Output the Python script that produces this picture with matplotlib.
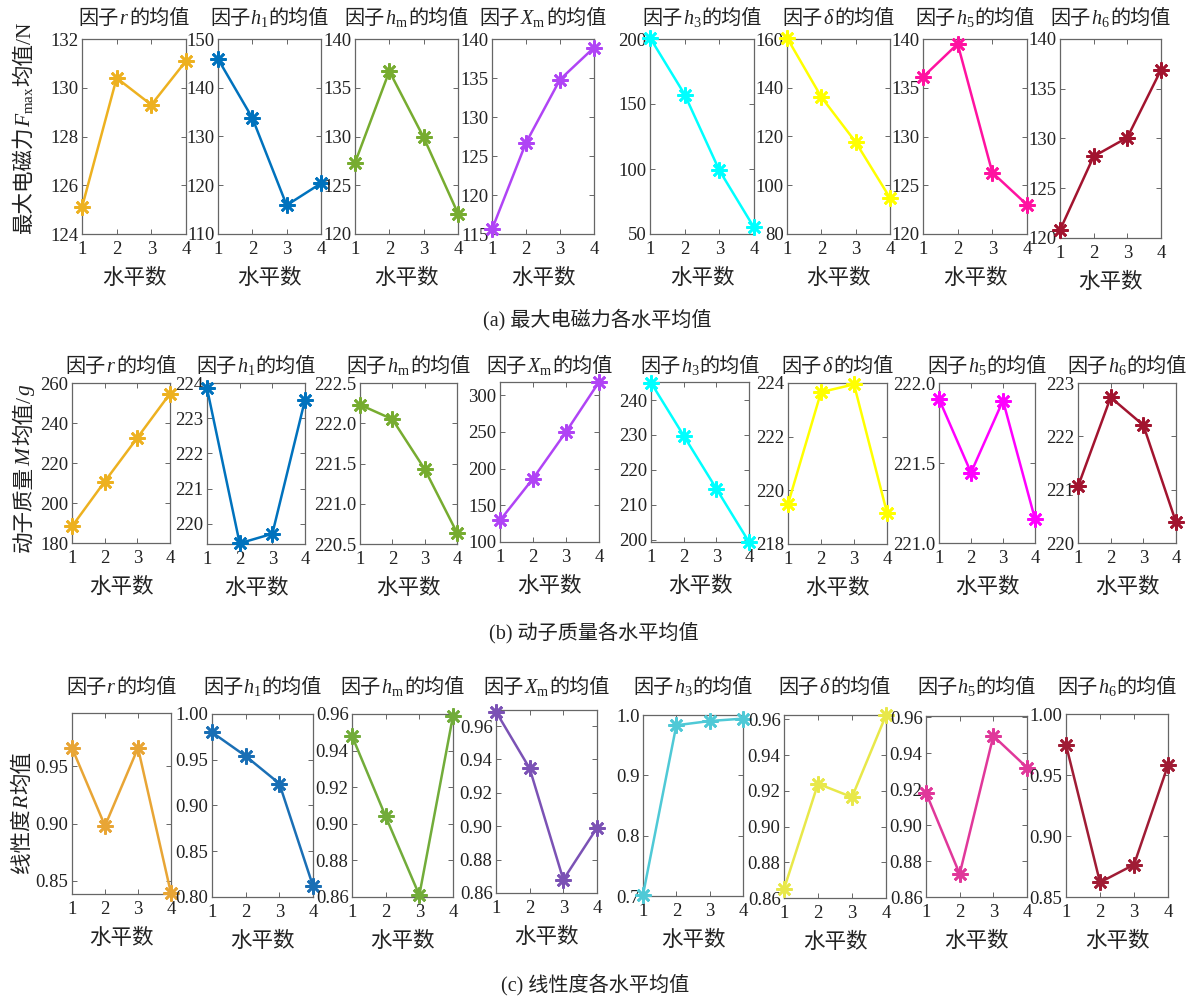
import matplotlib
matplotlib.use("Agg")
import matplotlib.pyplot as plt
from matplotlib.ticker import FormatStrFormatter

plt.rcParams['font.family'] = ['Liberation Serif', 'Noto Sans CJK SC']
plt.rcParams['mathtext.fontset'] = 'custom'
plt.rcParams['mathtext.rm'] = 'Liberation Serif'
plt.rcParams['mathtext.it'] = 'Liberation Serif:italic'
plt.rcParams['mathtext.bf'] = 'Liberation Serif:bold'
plt.rcParams['axes.unicode_minus'] = False

W, H = 1189, 997

# ---------------- data ----------------
levels = [1, 2, 3, 4]
factor_titles = [r'因子$r$的均值', r'因子$h_1$的均值', r'因子$h_{\mathrm{m}}$的均值',
                 r'因子$X_{\mathrm{m}}$的均值', r'因子$h_3$的均值', r'因子$\delta$的均值',
                 r'因子$h_5$的均值', r'因子$h_6$的均值']

# (a) maximum electromagnetic force mean per level
force_r = [125.1, 130.4, 129.3, 131.1]
force_h1 = [145.9, 133.8, 115.9, 120.4]
force_hm = [127.3, 136.7, 129.9, 122.1]
force_Xm = [115.6, 126.7, 134.8, 138.9]
force_h3 = [201.0, 157.3, 99.0, 55.0]
force_delta = [160.5, 136.2, 117.7, 94.8]
force_h5 = [136.1, 139.5, 126.3, 123.0]
force_h6 = [120.8, 128.2, 130.1, 136.9]

# (b) mover mass mean per level
mass_r = [188.3, 210.7, 232.6, 254.7]
mass_h1 = [223.85, 219.45, 219.72, 223.52]
mass_hm = [222.23, 222.05, 221.43, 220.64]
mass_Xm = [129.5, 186.4, 250.0, 318.0]
mass_h3 = [245.0, 229.8, 214.6, 199.3]
mass_delta = [219.49, 223.66, 223.95, 219.16]
mass_h5 = [221.90, 221.44, 221.89, 221.15]
mass_h6 = [221.06, 222.73, 222.21, 220.39]

# (c) linearity mean per level
lin_r = [0.966, 0.898, 0.966, 0.839]
lin_h1 = [0.980, 0.954, 0.924, 0.812]
lin_hm = [0.948, 0.904, 0.861, 0.959]
lin_Xm = [0.9686, 0.9346, 0.868, 0.899]
lin_h3 = [0.702, 0.983, 0.990, 0.994]
lin_delta = [0.865, 0.924, 0.9165, 0.9624]
lin_h5 = [0.918, 0.8728, 0.9496, 0.932]
lin_h6 = [0.9748, 0.862, 0.8765, 0.958]

row_series = [
    [force_r, force_h1, force_hm, force_Xm, force_h3, force_delta, force_h5, force_h6],
    [mass_r, mass_h1, mass_hm, mass_Xm, mass_h3, mass_delta, mass_h5, mass_h6],
    [lin_r, lin_h1, lin_hm, lin_Xm, lin_h3, lin_delta, lin_h5, lin_h6],
]

row_ylabels = [r'最大电磁力$F_{\mathrm{max}}$均值/N', r'动子质量$M$均值/$g$', r'线性度$R$均值']
row_captions = ['(a) 最大电磁力各水平均值', '(b) 动子质量各水平均值', '(c) 线性度各水平均值']

# axis limits & ticks
row_ylims = [
    [(124, 132), (110, 150), (120, 140), (115, 140), (50, 200), (80, 160), (120, 140), (120, 140)],
    [(180, 260), (219.43, 224), (220.5, 222.5), (100, 318), (199.3, 245.2), (218, 224), (221, 222), (220, 223)],
    [(0.8385, 0.9965), (0.80, 1.00), (0.86, 0.96), (0.86, 0.9696), (0.70, 1.00), (0.86, 0.9625), (0.86, 0.9607), (0.85, 1.00)],
]
row_yticks = [
    [[124, 126, 128, 130, 132], [110, 120, 130, 140, 150], [120, 125, 130, 135, 140],
     [115, 120, 125, 130, 135, 140], [50, 100, 150, 200], [80, 100, 120, 140, 160],
     [120, 125, 130, 135, 140], [120, 125, 130, 135, 140]],
    [[180, 200, 220, 240, 260], [220, 221, 222, 223, 224], [220.5, 221.0, 221.5, 222.0, 222.5],
     [100, 150, 200, 250, 300], [200, 210, 220, 230, 240], [218, 220, 222, 224],
     [221.0, 221.5, 222.0], [220, 221, 222, 223]],
    [[0.85, 0.90, 0.95], [0.80, 0.85, 0.90, 0.95, 1.00], [0.86, 0.88, 0.90, 0.92, 0.94, 0.96],
     [0.86, 0.88, 0.90, 0.92, 0.94, 0.96], [0.7, 0.8, 0.9, 1.0], [0.86, 0.88, 0.90, 0.92, 0.94, 0.96],
     [0.86, 0.88, 0.90, 0.92, 0.94, 0.96], [0.85, 0.90, 0.95, 1.00]],
]
row_fmts = [
    ['%d'] * 8,
    ['%d', '%d', '%.1f', '%d', '%d', '%d', '%.1f', '%d'],
    ['%.2f', '%.2f', '%.2f', '%.2f', '%.1f', '%.2f', '%.2f', '%.2f'],
]

row_colors = [
    ['#EDB120', '#0072BD', '#77AC30', '#B044F5', '#00FFFF', '#FFFF00', '#FF12A0', '#A2142F'],
    ['#EDB120', '#0072BD', '#77AC30', '#B044F5', '#00FFFF', '#FFFF00', '#FF00FF', '#A2142F'],
    ['#E8A535', '#1A6FB5', '#72AC3A', '#7B52B5', '#4FC9D6', '#E8E84A', '#E0389A', '#A01C35'],
]

# ---------------- layout (pixels: left, top, right, bottom) ----------------
row_boxes = [
    [(82, 39, 186, 234), (218, 39, 321, 234), (355, 39, 458, 234), (492, 39, 594, 234),
     (650, 39, 754, 234), (787, 39, 890, 234), (923, 39, 1027, 234), (1060, 39, 1161, 238)],
    [(72, 383, 170, 543), (207, 383, 305, 544), (360, 383, 457, 544), (500, 382, 599, 542),
     (651, 382, 749, 542), (788, 383, 887, 544), (939, 383, 1035, 543), (1078, 383, 1176, 543)],
    [(72, 713, 171, 894), (212, 714, 313, 897), (352, 714, 453, 897), (496, 710, 597, 893),
     (643, 715, 743, 896), (784, 715, 886, 898), (926, 716, 1027, 897), (1066, 714, 1168, 897)],
]
title_y = [17, 365, 686]
ylabel_pos = [(22, 128), (22, 468), (20, 812)]
caption_pos = [(597, 320), (594, 633), (595, 985)]
TXT = '#222222'

fig = plt.figure(figsize=(W / 100, H / 100), dpi=100)
fig.patch.set_facecolor('white')
renderer = fig.canvas.get_renderer()


def split_math(s):
    parts = s.split('$')
    segs = []
    for i, p in enumerate(parts):
        if not p:
            continue
        segs.append('$' + p + '$' if i % 2 == 1 else p)
    return segs


def rich_text(s, xc, yc, fontsize, rotation=0):
    """Place mixed CJK / mathtext string centred at pixel (xc, yc from top)."""
    segs = split_math(s)
    widths = []
    for seg in segs:
        t = fig.text(0, 0, seg, fontsize=fontsize)
        widths.append(t.get_window_extent(renderer).width)
        t.remove()
    total = sum(widths)
    fs_px = fontsize * 100 / 72
    if rotation == 0:
        x = xc - total / 2
        yb = H - yc - 0.36 * fs_px
        for seg, w in zip(segs, widths):
            fig.text(x / W, yb / H, seg, fontsize=fontsize, ha='left', va='baseline', color=TXT)
            x += w
    else:
        y = (H - yc) - total / 2
        xb = xc + 0.36 * fs_px
        for seg, w in zip(segs, widths):
            fig.text(xb / W, y / H, seg, fontsize=fontsize, rotation=90, rotation_mode='anchor',
                     ha='left', va='baseline', color=TXT)
            y += w


for r in range(3):
    for c in range(8):
        l, t, rr, b = row_boxes[r][c]
        ax = fig.add_axes([l / W, 1 - b / H, (rr - l) / W, (b - t) / H])
        ax.plot(levels, row_series[r][c], color=row_colors[r][c], lw=1.8,
                marker=(8, 2, 0), markersize=11.5, markeredgewidth=1.9,
                markeredgecolor=row_colors[r][c], clip_on=False, zorder=3)
        ax.set_xlim(1, 4)
        ax.set_xticks(levels)
        ax.set_ylim(*row_ylims[r][c])
        ax.set_yticks(row_yticks[r][c])
        ax.yaxis.set_major_formatter(FormatStrFormatter(row_fmts[r][c]))
        ax.tick_params(direction='in', length=3.5, width=0.7, colors='#666666',
                       labelcolor=TXT, labelsize=13.5, top=True, right=True)
        ax.tick_params(axis='x', pad=5)
        ax.tick_params(axis='y', pad=2.5)
        for sp in ax.spines.values():
            sp.set_color('#666666')
            sp.set_linewidth(0.9)
        ax.set_xlabel('水平数', fontsize=15.5, color=TXT, labelpad=8)
        rich_text(factor_titles[c], (l + rr) / 2, title_y[r], 14.5)

for r in range(3):
    x, y = ylabel_pos[r]
    rich_text(row_ylabels[r], x, y, 15.5, rotation=90)
    cx, cy = caption_pos[r]
    fig.text(cx / W, 1 - cy / H, row_captions[r], ha='center', va='center',
             fontsize=14.5, color=TXT)

fig.savefig('out.png', dpi=100, facecolor='white')
